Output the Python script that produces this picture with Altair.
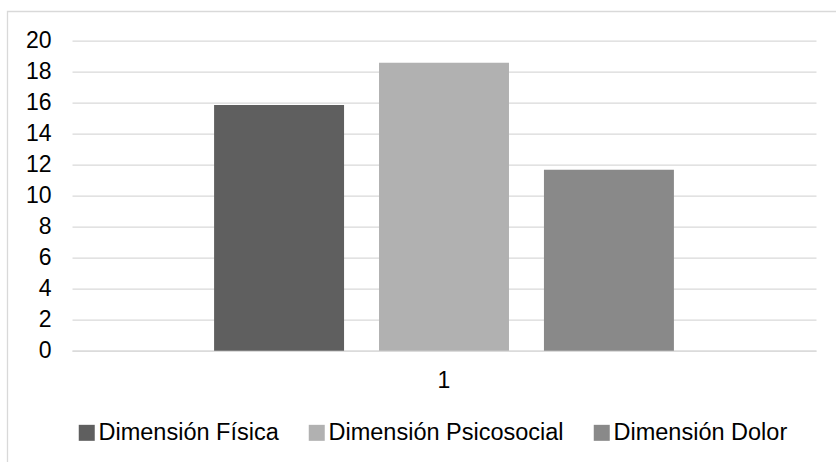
import altair as alt
import pandas as pd

# Category and series values
categories = ["1", "1", "1"]
series = ["Dimensión Física", "Dimensión Psicosocial", "Dimensión Dolor"]
values = [15.85, 18.58, 11.67]
colors = ["#5f5f5f", "#b1b1b1", "#898989"]
y_ticks = [0, 2, 4, 6, 8, 10, 12, 14, 16, 18, 20]

df = pd.DataFrame({"cat": categories, "serie": series, "valor": values})

FONT = "Liberation Sans"

bars = (
    alt.Chart(df)
    .mark_bar()
    .encode(
        x=alt.X(
            "cat:N",
            title=None,
            scale=alt.Scale(paddingOuter=0.309, paddingInner=0),
            axis=alt.Axis(
                labelAngle=0,
                ticks=False,
                domain=True,
                domainColor="#d9d9d9",
                domainWidth=1.3,
                labelPadding=19,
                labelFontSize=23,
                labelFont=FONT,
                labelColor="#000000",
                grid=False,
            ),
        ),
        xOffset=alt.XOffset(
            "serie:N",
            sort=series,
            scale=alt.Scale(paddingInner=0.212, paddingOuter=0),
        ),
        y=alt.Y(
            "valor:Q",
            title=None,
            scale=alt.Scale(domain=[0, 20], nice=False),
            axis=alt.Axis(
                values=y_ticks,
                ticks=False,
                domain=False,
                grid=True,
                gridColor="#d9d9d9",
                gridWidth=1.3,
                labelPadding=21,
                labelFontSize=23,
                labelFont=FONT,
                labelColor="#000000",
            ),
        ),
        color=alt.Color(
            "serie:N",
            sort=series,
            scale=alt.Scale(domain=series, range=colors),
            legend=alt.Legend(
                title=None,
                orient="none",
                direction="horizontal",
                legendX=3,
                legendY=380,
                symbolType="square",
                symbolSize=256,
                symbolStrokeWidth=0,
                symbolOpacity=1,
                labelFontSize=23.5,
                labelFont=FONT,
                labelColor="#000000",
                labelLimit=500,
                labelOffset=0,
                columnPadding=26,
                padding=0,
            ),
        ),
    )
)

# Outer chart frame
frame = (
    alt.Chart(pd.DataFrame({"k": [0]}))
    .mark_rect(fill="transparent", stroke="#d9d9d9", strokeWidth=1.3)
    .encode(
        x=alt.value(-64.5),
        x2=alt.value(900),
        y=alt.value(-29.2),
        y2=alt.value(600),
    )
)

chart = (
    alt.layer(frame, bars)
    .properties(
        width=744,
        height=310,
        padding={"left": 72, "top": 40.7, "right": 20, "bottom": 111.3},
        autosize=alt.AutoSizeParams(type="none"),
        background="#ffffff",
    )
    .configure_view(stroke=None)
)

chart.save("out.html", embed_options={"renderer": "svg", "actions": False})
